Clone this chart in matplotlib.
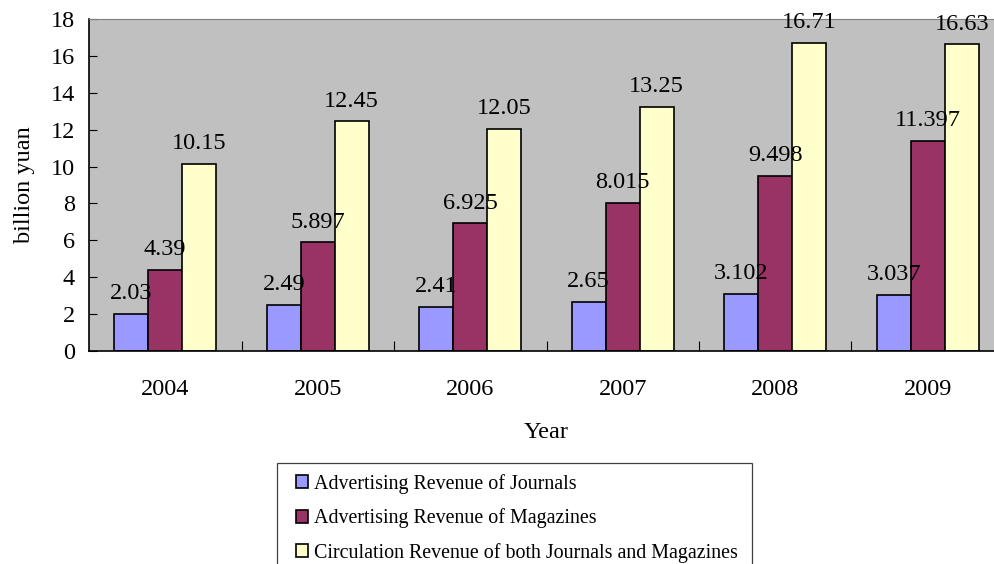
import matplotlib.pyplot as plt
from matplotlib.patches import Rectangle
import numpy as np

years = ['2004', '2005', '2006', '2007', '2008', '2009']
journal_ads = [2.03, 2.49, 2.41, 2.65, 3.102, 3.037]
magazine_ads = [4.39, 5.897, 6.925, 8.015, 9.498, 11.397]
circulation = [10.15, 12.45, 12.05, 13.25, 16.71, 16.63]

series_names = ['Advertising Revenue of Journals',
                'Advertising Revenue of Magazines',
                'Circulation Revenue of both Journals and Magazines']
colors = ['#9999FF', '#993366', '#FFFFCC']

plt.rcParams['font.family'] = ['Liberation Serif', 'DejaVu Serif']
fs = 17.5
leg_fs = 14.4

W, H = 995, 564
fig = plt.figure(figsize=(W / 100, H / 100), dpi=100)
# plot area runs a little past the right edge of the figure
left, right, top, bottom = 89, 1004, 19, 351
ax = fig.add_axes([left / W, 1 - bottom / H, (right - left) / W, (bottom - top) / H])
ax.set_facecolor('#C0C0C0')

x = np.arange(len(years))
bw = 0.223
for i, (vals, col, name) in enumerate(zip([journal_ads, magazine_ads, circulation], colors, series_names)):
    pos = x + (i - 1) * bw
    ax.bar(pos, vals, bw, color=col, edgecolor='black', linewidth=1.2, label=name, zorder=2)
    for px, v in zip(pos, vals):
        ax.annotate(f'{v:g}', (px, v), xytext=(0, 7), textcoords='offset points',
                    ha='center', va='bottom', fontsize=fs, zorder=3)

ax.set_xlim(-0.5, len(years) - 0.5)
ax.set_ylim(0, 18)
ax.set_yticks(range(0, 19, 2))
ax.set_xticks(x[:-1] + 0.5)
ax.set_xticklabels([])
ax.set_xticks(x, minor=True)
ax.set_xticklabels(years, minor=True)
ax.tick_params(axis='x', which='major', direction='in', length=7, color='black')
ax.tick_params(axis='x', which='minor', length=0, pad=20, labelsize=fs)
ax.tick_params(axis='y', direction='in', length=6, labelsize=fs, pad=10)

for s in ['left', 'bottom']:
    ax.spines[s].set_color('black')
    ax.spines[s].set_linewidth(1.2)
for s in ['top', 'right']:
    ax.spines[s].set_color('#808080')

ax.set_xlabel('Year', fontsize=fs, labelpad=16)
ax.set_ylabel('billion yuan', fontsize=fs, labelpad=11)

# legend box, open at the bottom edge of the figure
fig.patches.append(Rectangle((277 / W, -0.05), (752 - 277) / W, 0.05 + 1 - 463 / H,
                             transform=fig.transFigure, fill=False,
                             edgecolor='#404040', linewidth=0.9))
fig.legend(loc='upper left', bbox_to_anchor=(296 / W, 1 - 474 / H), fontsize=leg_fs,
           frameon=False, borderaxespad=0, borderpad=0,
           handlelength=0.62, handleheight=0.62, handletextpad=0.3,
           labelspacing=0.72)

fig.savefig('out.png', dpi=100)
